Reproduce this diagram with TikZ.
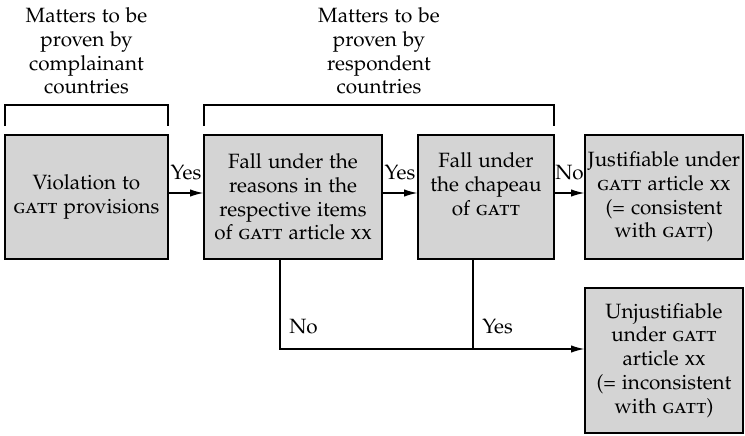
\documentclass[tikz,border=0pt]{standalone}
\usepackage[T1]{fontenc}
\usepackage[sc]{mathpazo}
\usetikzlibrary{arrows.meta,calc}
\newdimen\pxu
\pxu=0.75pt
\begin{document}
\begin{tikzpicture}[x=0.75pt,y=-0.75pt,
  box/.style={draw=black,line width=0.9pt,fill=black!17,inner sep=0pt,align=center,
    font=\fontsize{15.5}{17.8}\selectfont},
  toplab/.style={align=center,inner sep=0pt,font=\fontsize{15.5}{17.8}\selectfont},
  lab/.style={inner sep=0pt,font=\fontsize{15.5}{17.8}\selectfont},
  arr/.style={line width=0.9pt,-{Latex[length=10pt,width=5.5pt]}},
  ln/.style={line width=0.9pt}]
\useasboundingbox (0,0) rectangle (745,435);
% boxes
\node[box,minimum width=163\pxu,minimum height=124\pxu] (b1) at (86.5,197) {Violation to\\\textsc{gatt} provisions};
\node[box,minimum width=178\pxu,minimum height=124\pxu] (b2) at (293,197) {Fall under the\\reasons in the\\respective items\\of \textsc{gatt} article \textsc{xx}};
\node[box,minimum width=136\pxu,minimum height=124\pxu] (b3) at (486,197) {Fall under\\the chapeau\\of \textsc{gatt}\\[1.5pt]};
\node[box,minimum width=158\pxu,minimum height=124\pxu] (b4) at (664,197) {Justifiable under\\\textsc{gatt} article \textsc{xx}\\(= consistent\\with \textsc{gatt})};
\node[box,minimum width=158\pxu,minimum height=145\pxu] (b5) at (664,360.5) {Unjustifiable\\under \textsc{gatt}\\article \textsc{xx}\\(= inconsistent\\with \textsc{gatt})};
% top labels
\node[toplab] (t1) at (86.5,51) {Matters to be\\proven by\\complainant\\countries};
\node[toplab] (t2) at (379,51) {Matters to be\\proven by\\respondent\\countries};
% brackets
\coordinate (k1a) at (5,126); \coordinate (k1b) at (168,126);
\coordinate (k2a) at (204,126); \coordinate (k2b) at (554,126);
\draw[ln] (k1a) -- ++(0,-21) -| (k1b);
\draw[ln] (k2a) -- ++(0,-21) -| (k2b);
% arrows
\draw[arr] ([yshift=3pt]b1.east) -- node[lab,anchor=base,yshift=10.5pt] (y1) {Yes} ([yshift=3pt]b2.west);
\draw[arr] ([yshift=3pt]b2.east) -- node[lab,anchor=base,yshift=10.5pt] (y2) {Yes} ([yshift=3pt]b3.west);
\draw[arr] ([yshift=3pt]b3.east) -- node[lab,anchor=base,yshift=10.5pt] (n1) {No} ([yshift=3pt]b4.west);
% lower connectors
\coordinate (c2) at (280,349);
\coordinate (c3) at (473,349);
\draw[ln] ([xshift=-13\pxu]b2.south) -- (c2) -- (c3);
\draw[ln] ([xshift=-13\pxu]b3.south) -- (c3);
\draw[arr] (c3) -- (b5.west |- c3);
\node[lab,anchor=base west] (n2) at (289,333) {No};
\node[lab,anchor=base west] (y3) at (482,333) {Yes};
\end{tikzpicture}
\end{document}
